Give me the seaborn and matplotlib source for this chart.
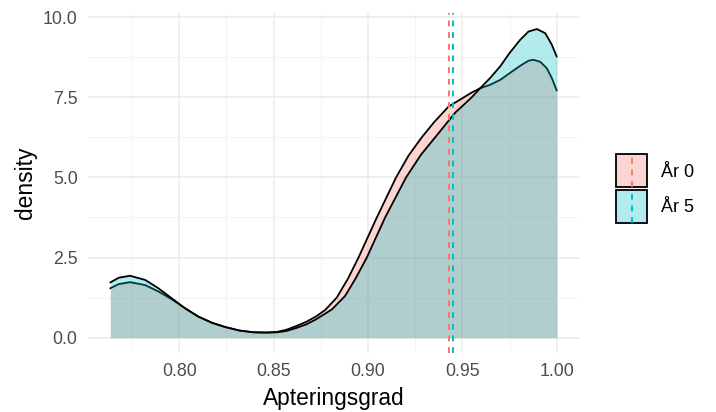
import numpy as np
import pandas as pd
import matplotlib
matplotlib.use("Agg")
import matplotlib.pyplot as plt
import seaborn as sns
from matplotlib.patches import Rectangle
from matplotlib.lines import Line2D

# ---- data ----
groups = ["År 0", "År 5"]
x_ar0 = [0.7635, 0.768, 0.774, 0.782, 0.789, 0.796, 0.803, 0.810, 0.8175,
         0.8244, 0.832, 0.8395, 0.8465, 0.852, 0.857, 0.862, 0.8676, 0.8725,
         0.8773, 0.8835, 0.8895, 0.895, 0.9047, 0.9149, 0.9215, 0.9285,
         0.935, 0.9427, 0.950, 0.955, 0.9594, 0.9647, 0.970, 0.975, 0.9806,
         0.985, 0.9877, 0.9912, 0.9947, 0.9974, 1.0]
dens_ar0 = [1.54, 1.67, 1.73, 1.64, 1.44, 1.20, 0.92, 0.66, 0.46,
            0.33, 0.22, 0.165, 0.16, 0.18, 0.25, 0.36, 0.50, 0.66,
            0.86, 1.25, 1.85, 2.50, 3.75, 5.00, 5.68, 6.25,
            6.72, 7.21, 7.47, 7.65, 7.78, 7.89, 8.04, 8.25, 8.48,
            8.64, 8.67, 8.61, 8.41, 8.10, 7.71]
x_ar5 = [0.7635, 0.768, 0.774, 0.782, 0.789, 0.796, 0.803, 0.810, 0.8175,
         0.8244, 0.832, 0.8395, 0.8465, 0.852, 0.857, 0.862, 0.8676, 0.8725,
         0.8809, 0.8879, 0.8935, 0.8994, 0.9091, 0.9202, 0.928, 0.9356,
         0.9462, 0.951, 0.955, 0.9594, 0.9647, 0.970, 0.975, 0.9806, 0.985,
         0.9895, 0.9939, 0.9974, 1.0]
dens_ar5 = [1.72, 1.87, 1.93, 1.80, 1.54, 1.23, 0.92, 0.66, 0.46,
            0.33, 0.22, 0.165, 0.155, 0.165, 0.21, 0.30, 0.42, 0.57,
            0.88, 1.30, 1.85, 2.50, 3.75, 5.00, 5.70, 6.25,
            7.02, 7.28, 7.50, 7.78, 8.10, 8.46, 8.88, 9.29, 9.55,
            9.63, 9.50, 9.14, 8.77]
mean_ar0 = 0.9430
mean_ar5 = 0.9451
x_ticks = [0.80, 0.85, 0.90, 0.95, 1.00]
x_ticklabels = ["0.80", "0.85", "0.90", "0.95", "1.00"]
y_ticks = [0.0, 2.5, 5.0, 7.5, 10.0]
y_ticklabels = ["0.0", "2.5", "5.0", "7.5", "10.0"]

colors = {"År 0": "#F8766D", "År 5": "#00BFC4"}
means = {"År 0": mean_ar0, "År 5": mean_ar5}

df = pd.DataFrame({
    "Apteringsgrad": x_ar0 + x_ar5,
    "density": dens_ar0 + dens_ar5,
    "grupp": [groups[0]] * len(x_ar0) + [groups[1]] * len(x_ar5),
})

sns.set_theme(style="white")
plt.rcParams["font.family"] = ["Liberation Sans", "DejaVu Sans"]

fig = plt.figure(figsize=(7.16, 4.12), dpi=100)
ax = fig.add_axes([88 / 716, 59 / 412, (579 - 88) / 716, (353 - 13) / 412])

# fills + outlines, group by group (ggplot order)
for i, g in enumerate(groups):
    sub = df[df["grupp"] == g]
    ax.fill_between(sub["Apteringsgrad"], 0, sub["density"],
                    color=colors[g], alpha=0.3, linewidth=0, zorder=2 + i * 2)
    sns.lineplot(data=sub, x="Apteringsgrad", y="density", color="black",
                 linewidth=1.3, ax=ax, legend=False, zorder=3 + i * 2, sort=True)

for g in groups:
    ax.axvline(means[g], color=colors[g], linestyle=(0, (3.0, 3.0)), linewidth=1.4, zorder=8)

ax.set_xlim(0.7517, 1.0118)
ax.set_ylim(-0.48, 10.13)
ax.set_xticks(x_ticks)
ax.set_xticklabels(x_ticklabels)
ax.set_yticks(y_ticks)
ax.set_yticklabels(y_ticklabels)
ax.set_xticks([0.775, 0.825, 0.875, 0.925, 0.975], minor=True)
ax.set_yticks([1.25, 3.75, 6.25, 8.75], minor=True)
ax.grid(which="major", color="#EBEBEB", linewidth=1.1, zorder=0)
ax.grid(which="minor", color="#F2F2F2", linewidth=0.6, zorder=0)
ax.set_axisbelow(True)
for s in ax.spines.values():
    s.set_visible(False)
ax.tick_params(axis="both", which="both", length=0, labelsize=12.8,
               labelcolor="#4D4D4D")
ax.tick_params(axis="x", pad=7.5)
ax.tick_params(axis="y", pad=7.5)
ax.set_xlabel("Apteringsgrad", fontsize=16.4, color="black", labelpad=5)
ax.set_ylabel("density", fontsize=16.4, color="black", labelpad=4)

# legend (manual, ggplot style)
lax = fig.add_axes([615 / 716, (412 - 224) / 412, 33 / 716, 71 / 412])
lax.set_xlim(0, 1)
lax.set_ylim(0, 2)
lax.axis("off")
for i, g in enumerate(groups):
    y0 = 1 - i
    lax.add_patch(Rectangle((0.03, y0 + 0.03), 0.94, 0.94, facecolor=colors[g], alpha=0.3,
                            edgecolor="none"))
    lax.add_patch(Rectangle((0.03, y0 + 0.03), 0.94, 0.94, facecolor="none",
                            edgecolor="black", linewidth=1.3))
    lax.add_line(Line2D([0.5, 0.5], [y0 + 0.03, y0 + 0.97], color=colors[g],
                        linestyle=(0, (3.0, 3.0)), linewidth=1.4))
    fig.text(661 / 716, 1 - (172 + i * 35) / 412, g, fontsize=13, color="black",
             va="center", ha="left")

fig.savefig("out.png", dpi=100)
